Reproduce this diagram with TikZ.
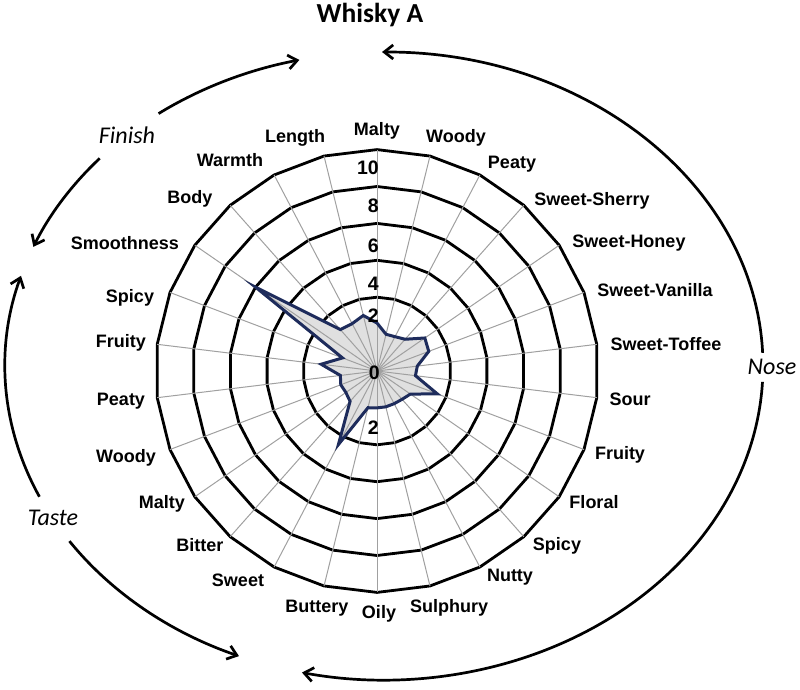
\documentclass[tikz,border=0pt]{standalone}
\usepackage{fontspec}
\setmainfont{Liberation Sans}
\newfontfamily\calibri{Carlito}
\usetikzlibrary{arrows.meta,calc}
\definecolor{spokegray}{RGB}{160,160,160}
\definecolor{seriesfill}{RGB}{224,224,224}
\definecolor{seriesline}{RGB}{30,44,92}
\tikzstyle{catlabel} = [font=\bfseries\fontsize{18}{18}\selectfont,
    inner sep=0pt, text height=12.9pt, text depth=0pt]
\tikzstyle{ticklabel} = [font=\bfseries\fontsize{19.5}{19.5}\selectfont,
    anchor=east, inner sep=0pt, text height=14pt, text depth=0pt]
\tikzstyle{partlabel} = [font=\calibri\itshape\fontsize{24}{24}\selectfont,
    inner sep=0pt, text height=15.5pt, text depth=0pt]
\tikzstyle{ring} = [draw=black, line width=2.8pt, line join=miter]
\tikzstyle{spoke} = [draw=spokegray, line width=1pt]
\tikzstyle{series} = [draw=seriesline, line width=3pt, line join=miter]
\tikzset{>={Straight Barb[length=9pt,width=14pt]}}
\tikzstyle{sense} = [line width=2.7pt, ->]
\def\radunit{18.45}

\begin{document}
\begin{tikzpicture}[x=1pt,y=1pt]
\useasboundingbox (-377,-318) rectangle (423,371);
    %title
    \node[font=\calibri\bfseries\fontsize{27.5}{27.5}\selectfont,
        inner sep=0pt, text height=17.7pt, text depth=0pt] (title) at (-7,357) {Whisky A};
    %data points
    \foreach \v [count=\i from 0] in {0.6,0.05,0.1,0.3,1.15,1.0,0.2,0.1,1.5,0.2,
        0.05,0,0,0,0.05,2.5,0.2,0.05,0.1,0,1.05,0,6,1.0,0.9,1.1}
        \coordinate (d\i) at ({90-\i*360/26}:{(\v+2)*\radunit});
    %rings and spokes
    \foreach \r in {2,4,...,10}
        \draw[ring] (90:{(\r+2)*\radunit})
            \foreach \k in {1,...,25} { -- ({90-\k*360/26}:{(\r+2)*\radunit}) } -- cycle;
    \fill[seriesfill] (d0) -- (d1) -- (d2) -- (d3) -- (d4) -- (d5) -- (d6) -- (d7)
        -- (d8) -- (d9) -- (d10) -- (d11) -- (d12) -- (d13) -- (d14) -- (d15) -- (d16)
        -- (d17) -- (d18) -- (d19) -- (d20) -- (d21) -- (d22) -- (d23) -- (d24) -- (d25) -- cycle;
    \coordinate (c) at (0,0);
    \foreach \k in {0,...,25}
        \draw[spoke] (c) -- ({90-\k*360/26}:{12*\radunit});
    \draw[series] (d0) -- (d1) -- (d2) -- (d3) -- (d4) -- (d5) -- (d6) -- (d7)
        -- (d8) -- (d9) -- (d10) -- (d11) -- (d12) -- (d13) -- (d14) -- (d15) -- (d16)
        -- (d17) -- (d18) -- (d19) -- (d20) -- (d21) -- (d22) -- (d23) -- (d24) -- (d25) -- cycle;
    %axis values
    \node[ticklabel] (v10) at (2,204) {10};
    \node[ticklabel] (v8) at (2,166) {8};
    \node[ticklabel] (v6) at (2,126) {6};
    \node[ticklabel] (v4) at (2,88) {4};
    \node[ticklabel] (v2) at (2,56) {2};
    \node[ticklabel] (v0) at (3,-1) {0};
    \node[ticklabel] (v2b) at (2,-56) {2};
    %nose
    \node[catlabel] (nMalty) at (0,242) {Malty};
    \node[catlabel] (nWoody) at (79,235) {Woody};
    \node[catlabel] (nPeaty) at (135,209) {Peaty};
    \node[catlabel] (nSherry) at (215,172) {Sweet-Sherry};
    \node[catlabel] (nHoney) at (252,130) {Sweet-Honey};
    \node[catlabel] (nVanilla) at (278,81) {Sweet-Vanilla};
    \node[catlabel] (nToffee) at (289,27) {Sweet-Toffee};
    \node[catlabel] (nSour) at (253,-28) {Sour};
    \node[catlabel] (nFruity) at (243,-82) {Fruity};
    \node[catlabel] (nFloral) at (217,-131) {Floral};
    \node[catlabel] (nSpicy) at (180,-173) {Spicy};
    \node[catlabel] (nNutty) at (133,-204) {Nutty};
    \node[catlabel] (nSulphury) at (72,-235) {Sulphury};
    %taste
    \node[catlabel] (tOily) at (2,-241) {Oily};
    \node[catlabel] (tButtery) at (-60,-235) {Buttery};
    \node[catlabel] (tSweet) at (-139,-209) {Sweet};
    \node[catlabel] (tBitter) at (-177,-174) {Bitter};
    \node[catlabel] (tMalty) at (-215,-131) {Malty};
    \node[catlabel] (tWoody) at (-251,-85) {Woody};
    \node[catlabel] (tPeaty) at (-256,-28) {Peaty};
    \node[catlabel] (tFruity) at (-256,30) {Fruity};
    \node[catlabel] (tSpicy) at (-247,75) {Spicy};
    \node[catlabel] (tSmooth) at (-252,128) {Smoothness};
    %finish
    \node[catlabel] (fBody) at (-187,174) {Body};
    \node[catlabel] (fWarmth) at (-147,211) {Warmth};
    \node[catlabel] (fLength) at (-82,235) {Length};
    %arcs
    \coordinate (e) at (7,5);
    \node[partlabel] (nose) at (395,4) {Nose};
    \node[partlabel] (taste) at (-324,-147) {Taste};
    \node[partlabel] (finish) at (-250,235) {Finish};
    \draw[sense] ($(e)+(2.4:379 and 314)$) arc[start angle=2.4, end angle=90.3, x radius=379, y radius=314];
    \draw[sense] ($(e)+(-2.9:379 and 314)$) arc[start angle=-2.9, end angle=-102.5, x radius=379, y radius=314];
    \draw[sense] ($(e)+(126.5:379 and 314)$) arc[start angle=126.5, end angle=102.9, x radius=379, y radius=314];
    \draw[sense] ($(e)+(138.6:379 and 314)$) arc[start angle=138.6, end angle=157.7, x radius=379, y radius=314];
    \draw[sense] ($(e)+(204.6:379 and 314)$) arc[start angle=204.6, end angle=163.3, x radius=379, y radius=314];
    \draw[sense] ($(e)+(213.9:379 and 314)$) arc[start angle=213.9, end angle=247.5, x radius=379, y radius=314];
\end{tikzpicture}
\end{document}
